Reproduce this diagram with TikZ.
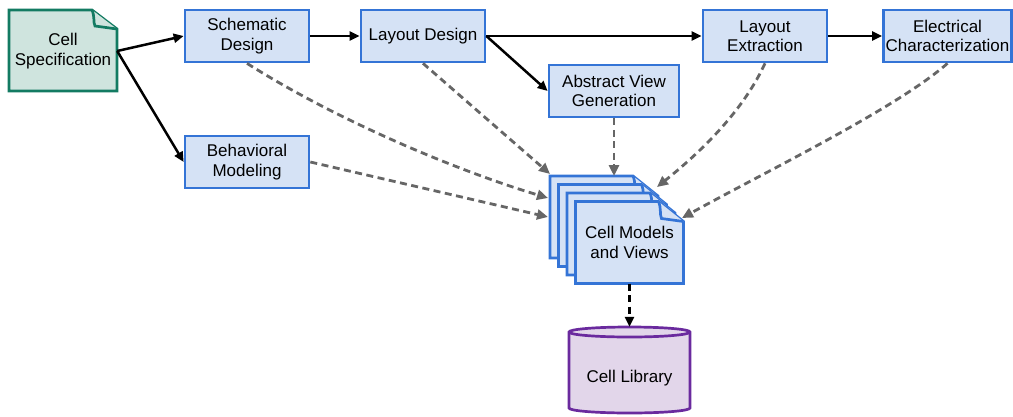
\documentclass[tikz,border=0pt]{standalone}
\usepackage{fontspec}
\setmainfont{Liberation Sans}
\usetikzlibrary{arrows.meta}
\definecolor{bfill}{HTML}{D5E2F5}
\definecolor{bline}{HTML}{3474D6}
\definecolor{tfill}{HTML}{CFE4DE}
\definecolor{tline}{HTML}{137B62}
\definecolor{pfill}{HTML}{E2D6EA}
\definecolor{pline}{HTML}{6A2A9E}
\definecolor{dgray}{HTML}{666666}
\tikzset{
  txt/.style={font=\fontsize{17}{19.5}\selectfont, align=center, inner sep=0pt},
  stepbox/.style={txt, draw=bline, fill=bfill, line width=2.7pt, minimum height=52pt},
  flow/.style={line width=2.5pt, -{Triangle[length=10pt,width=9pt]}},
  feed/.style={line width=2.8pt, dgray, dash pattern=on 7pt off 4.5pt, -{Triangle[length=11pt,width=10pt]}},
  pagestyle/.style={draw=bline, fill=bfill, line width=2.7pt, line join=miter},
  docpage/.pic={
    \filldraw[pagestyle] (0,0) -- (83,0) -- (108,20) -- (108,82) -- (0,82) -- cycle;
    \filldraw[pagestyle] (83,0) .. controls (86,7) and (84,13) .. (86,17) -- (108,20);
  }
}
\begin{document}
\begin{tikzpicture}[x=1pt,y=-1pt]
\useasboundingbox (0,0) rectangle (1013,416);
% cell specification (dog-eared)
\filldraw[draw=tline, fill=tfill, line width=2.7pt, line join=miter]
  (9,10) -- (92,10) -- (117,29) -- (117,91) -- (9,91) -- cycle;
\filldraw[draw=tline, fill=tfill, line width=2.7pt, line join=miter]
  (92,10) .. controls (95,17) and (93,22) .. (95,26) -- (117,29);
\node[txt, minimum width=108pt, minimum height=81pt] (spec) at (63,51) {Cell\\Specification};
% process boxes
\node[stepbox, minimum width=124pt] (sch) at (247,36) {Schematic\\Design};
\node[stepbox, minimum width=124pt] (lay) at (423,36) {Layout Design};
\node[stepbox, minimum width=130pt] (abs) at (614,91) {Abstract View\\Generation};
\node[stepbox, minimum width=124pt] (ext) at (765,36) {Layout\\Extraction};
\node[stepbox, minimum width=128pt] (elec) at (947.5,36) {Electrical\\Characterization};
\node[stepbox, minimum width=124pt] (beh) at (247,162) {Behavioral\\Modeling};
% stacked pages
\pic at (550,176) {docpage};
\pic at (558.5,184.5) {docpage};
\pic at (567,193) {docpage};
\pic at (575.5,201.5) {docpage};
\node[txt, minimum width=108pt, minimum height=82pt] (views) at (629.5,242.5) {Cell Models\\and Views};
% cell library cylinder
\filldraw[draw=pline, fill=pfill, line width=2.7pt]
  (569,332) -- (569,408) .. controls (569,410.8) and (596.1,413) .. (629.5,413)
  .. controls (662.9,413) and (690,410.8) .. (690,408) -- (690,332)
  .. controls (690,329.2) and (662.9,327) .. (629.5,327)
  .. controls (596.1,327) and (569,329.2) .. (569,332) -- cycle;
\draw[draw=pline, line width=2.7pt]
  (569,332) .. controls (569,334.8) and (596.1,337) .. (629.5,337)
  .. controls (662.9,337) and (690,334.8) .. (690,332);
\node[txt, minimum width=121pt, minimum height=86pt] (lib) at (629.5,370) {};
\node[txt] (libtext) at (629.5,378) {Cell Library};
% arrow targets on the stack
\coordinate (tSch) at (548,198);
\coordinate (tBeh) at (548,217);
\coordinate (tLay) at (550,174);
\coordinate (tAbs) at (614,176);
\coordinate (tExt) at (657,187);
\coordinate (tElec) at (682,218);
% solid flow
\draw[flow] (spec.east) -- (sch.west);
\draw[flow] (spec.east) -- (beh.west);
\draw[flow] (sch.east) -- (lay.west);
\draw[flow] (lay.east) -- (ext.west);
\draw[flow] (lay.east) -- (abs.west);
\draw[flow] (ext.east) -- (elec.west);
% dashed feeds
\draw[feed] (sch.south) .. controls (338,121) and (458,171) .. (tSch);
\draw[feed] (beh.east) -- (tBeh);
\draw[feed] (lay.south) -- (tLay);
\draw[feed] (abs.south) -- (tAbs);
\draw[feed] (ext.south) .. controls (745,107) and (707,147) .. (tExt);
\draw[feed] (elec.south) .. controls (897,108) and (765,172) .. (tElec);
\draw[line width=2.5pt, dash pattern=on 7pt off 4.5pt, -{Triangle[length=10pt,width=9pt]}] (views.south) -- (lib.north);
\end{tikzpicture}
\end{document}
